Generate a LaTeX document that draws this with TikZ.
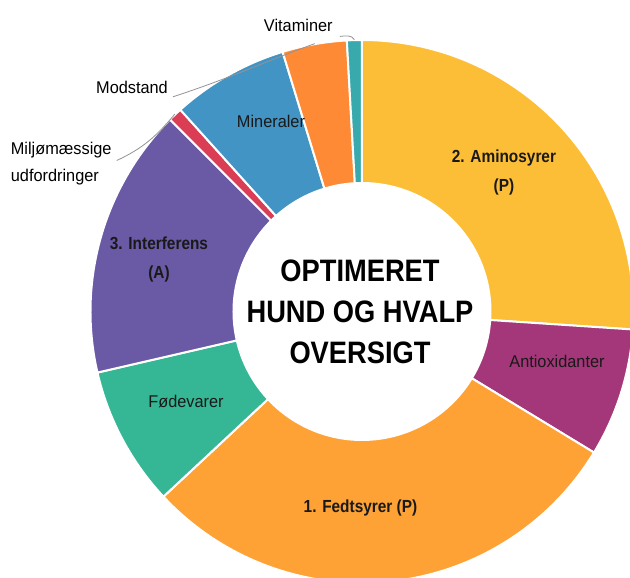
\documentclass[tikz,border=0pt]{standalone}
\usepackage{fontspec}
\setmainfont{Liberation Sans}[FakeStretch=0.96]
\newfontfamily\condbold{Liberation Sans}[FakeStretch=0.88]
\usetikzlibrary{positioning}

\definecolor{aminoyellow}{HTML}{FDBE37}
\definecolor{antioxpurple}{HTML}{A43779}
\definecolor{fedtorange}{HTML}{FEA236}
\definecolor{foedegreen}{HTML}{35B796}
\definecolor{interviolet}{HTML}{6A59A4}
\definecolor{miljored}{HTML}{DB3D55}
\definecolor{mineralblue}{HTML}{4294C4}
\definecolor{modstandorange}{HTML}{FF8A36}
\definecolor{vitaminteal}{HTML}{38AAAE}

% #1 start angle, #2 end angle, #3 colour
\newcommand{\donutslice}[3]{%
  \fill[#3, draw=white, line width=2pt] (#1:271.5) arc[start angle=#1, end angle=#2, radius=271.5pt]
    -- (#2:128.5) arc[start angle=#2, end angle=#1, radius=128.5pt] -- cycle;}

\begin{document}
\begin{tikzpicture}[x=1pt, y=1pt,
        slicelbl/.style={font=\fontsize{17}{20}\selectfont, text=black!90},
        boldlbl/.style={font=\condbold\bfseries\fontsize{17.5}{29}\selectfont, align=center, text=black!90},
        outlbl/.style={font=\fontsize{17}{27}\selectfont, inner sep=3pt, align=left},
        leader/.style={draw=gray!85, line width=0.8pt},
        titletext/.style={font=\condbold\bfseries\fontsize{31}{41}\selectfont, align=center}
    ]
        \useasboundingbox (-362,-266.5) rectangle (268,311.5);
        \clip (-362,-266.5) rectangle (268,311.5);

        % Ring
        \donutslice{-3.8}{90}{aminoyellow}
        \donutslice{-31.3}{-3.8}{antioxpurple}
        \donutslice{-137}{-31.3}{fedtorange}
        \donutslice{193}{223}{foedegreen}
        \donutslice{135}{193}{interviolet}
        \donutslice{132}{135}{miljored}
        \donutslice{107}{132}{mineralblue}
        \donutslice{93.2}{107}{modstandorange}
        \donutslice{90}{93.2}{vitaminteal}

        % Labels inside the ring
        \node[boldlbl] (amino) at (142,139) {2. Aminosyrer\\(P)};
        \node[slicelbl] (antiox) at (195,-49.5) {Antioxidanter};
        \node[boldlbl] (fedt) at (-1.5,-196) {1. Fedtsyrer (P)};
        \node[slicelbl] (foede) at (-176,-90.5) {Fødevarer};
        \node[boldlbl] (inter) at (-203,52.5) {3. Interferens\\(A)};
        \node[slicelbl] (mineral) at (-91,189.8) {Mineraler};

        % Centre
        \node[titletext] (title) at (-2,0) {OPTIMERET\\HUND OG HVALP\\OVERSIGT};

        % Labels outside the ring
        \node[outlbl] (vit) at (-63.7,286.5) {Vitaminer};
        \node[outlbl] (mod) at (-230,224.2) {Modstand};
        \node[outlbl, anchor=west] (milj) at (-354.3,148) {Miljømæssige\\udfordringer};

        \coordinate (vitpt) at (91.6:272);
        \coordinate (modpt) at (100:272);
        \coordinate (miljpt) at (133.5:272);

        \draw[leader] ([xshift=4pt,yshift=-2pt]vit.south east) to[out=5, in=120] (vitpt);
        \draw[leader] ([xshift=2pt,yshift=0pt]mod.south east) to[out=18, in=200] (modpt);
        \draw[leader] ([xshift=2pt,yshift=3pt]milj.east) to[out=25, in=230] (miljpt);
    \end{tikzpicture}
\end{document}
